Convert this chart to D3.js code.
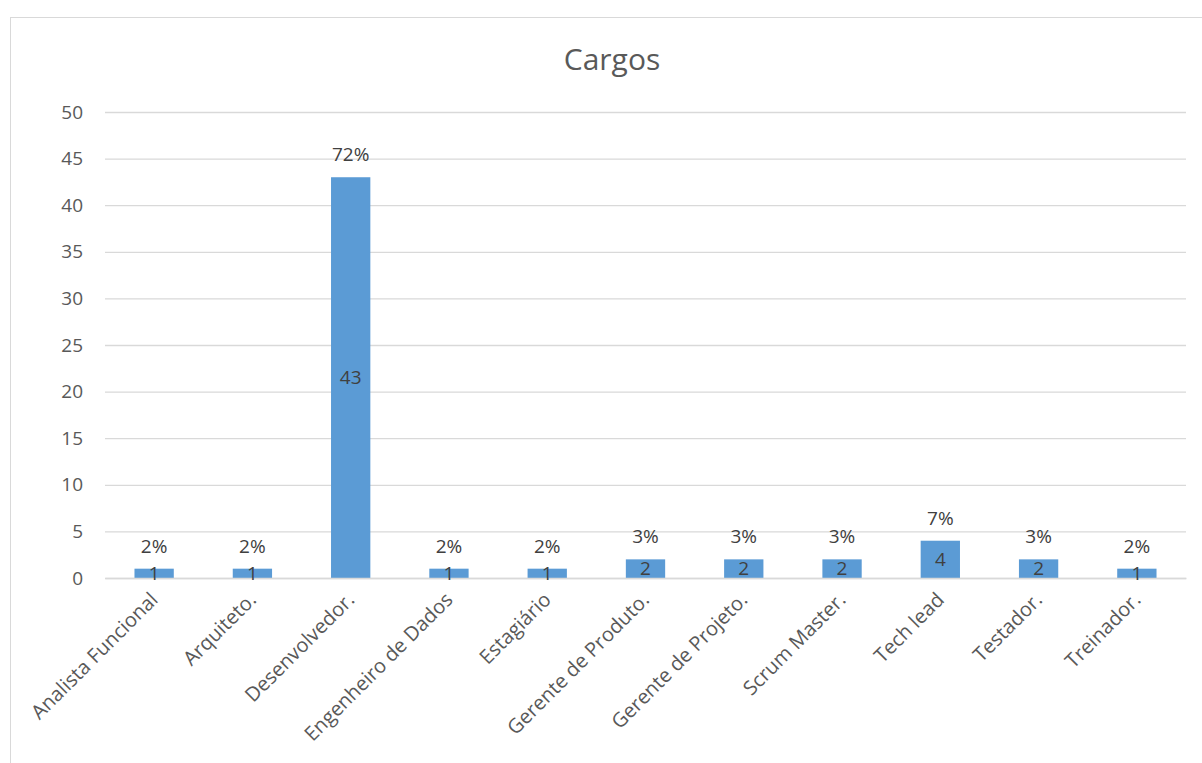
<!DOCTYPE html>
<html><head><meta charset="utf-8">
<script src="https://cdn.jsdelivr.net/npm/d3@7"></script>
<style>body{margin:0;background:#fff}svg{display:block}text{font-family:"Open Sans","Noto Sans",sans-serif}</style>
</head><body><svg id="c" width="1202" height="763"></svg>
<script>
const categories = ["Analista Funcional","Arquiteto.","Desenvolvedor.","Engenheiro de Dados","Estagiário","Gerente de Produto.","Gerente de Projeto.","Scrum Master.","Tech lead","Testador.","Treinador."];
const values = [1,1,43,1,1,2,2,2,4,2,1];
const percentLabels = ["2%","2%","72%","2%","2%","3%","3%","3%","7%","3%","2%"];
const yTicks = [0,5,10,15,20,25,30,35,40,45,50];
const title = "Cargos";

const svg = d3.select("#c");
const W = 1202, H = 763;
const m = {left:105, right:16, top:112, bottom:185};
svg.append("rect").attr("x",10.5).attr("y",17.5).attr("width",1200).attr("height",760)
  .attr("fill","#fff").attr("stroke","#d9d9d9").attr("stroke-width",1);

const x = d3.scaleBand().domain(categories).range([m.left, W-m.right]).paddingInner(0.6).paddingOuter(0.3);
const y = d3.scaleLinear().domain([0,50]).range([H-m.bottom, m.top]);

svg.append("text").attr("x",612).attr("y",70).attr("text-anchor","middle")
  .attr("font-size",30).attr("fill","#595959").text(title);

const gy = svg.append("g").attr("transform",`translate(${m.left},0)`)
  .call(d3.axisLeft(y).tickValues(yTicks).tickSize(-(W-m.left-m.right)).tickPadding(22));
gy.select(".domain").remove();
gy.selectAll(".tick line").attr("stroke","#d9d9d9").attr("stroke-width",1.3);
gy.selectAll(".tick text").attr("fill","#595959").attr("font-size",19).attr("font-family","'Open Sans','Noto Sans',sans-serif");

svg.selectAll("rect.bar").data(values).join("rect").attr("class","bar")
  .attr("x",(d,i)=>x(categories[i])).attr("width",x.bandwidth())
  .attr("y",d=>y(d)).attr("height",d=>y(0)-y(d)).attr("fill","#5b9bd5");

const gx = svg.append("g").attr("transform",`translate(0,${y(0)})`)
  .call(d3.axisBottom(x).tickSize(0).tickPadding(0));
gx.select(".domain").attr("stroke","#d9d9d9").attr("stroke-width",1.3);
gx.selectAll(".tick text").attr("fill","#595959").attr("font-size",20)
  .attr("font-family","'Open Sans','Noto Sans',sans-serif")
  .attr("text-anchor","end").attr("dy",0)
  .attr("transform","translate(5,23) rotate(-45)");

svg.selectAll("text.val").data(values).join("text").attr("class","val")
  .attr("x",(d,i)=>x(categories[i])+x.bandwidth()/2)
  .attr("y",d=>(y(d)+y(0))/2).attr("dy","0.35em").attr("text-anchor","middle")
  .attr("font-size",19).attr("fill","#404040").text(d=>d);

svg.selectAll("text.pct").data(values).join("text").attr("class","pct")
  .attr("x",(d,i)=>x(categories[i])+x.bandwidth()/2)
  .attr("y",d=>y(d)-16).attr("text-anchor","middle")
  .attr("font-size",19).attr("fill","#404040").text((d,i)=>percentLabels[i]);
</script></body></html>
